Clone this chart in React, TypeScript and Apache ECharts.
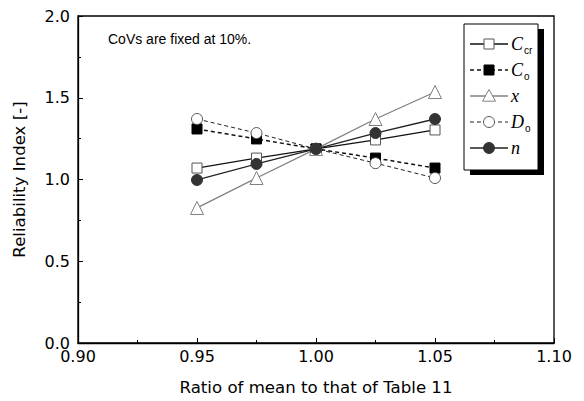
import React, { useEffect, useRef } from "react";
import * as echarts from "echarts";

// Ratio of each mean to the baseline value
const ratios = [0.95, 0.975, 1.0, 1.025, 1.05];

// Reliability index for each varied parameter
const betaCcr = [1.07, 1.131, 1.187, 1.242, 1.303];
const betaCo = [1.309, 1.248, 1.187, 1.131, 1.07];
const betaX = [0.826, 1.009, 1.187, 1.37, 1.535];
const betaDo = [1.37, 1.284, 1.187, 1.1, 1.009];
const betaN = [0.997, 1.095, 1.187, 1.284, 1.37];

const xTicks = [0.9, 0.95, 1.0, 1.05, 1.1];
const yTicks = [0, 0.5, 1.0, 1.5, 2.0];

const note = "CoVs are fixed at 10%.";
const xName = "Ratio of mean to that of Table 11";
const yName = "Reliability Index [-]";

type Spec = {
  key: string;
  label: string;
  data: number[];
  lineColor: string;
  lineWidth: number;
  dashed: boolean;
  symbol: string;
  symbolSize: number;
  fill: string;
  edge: string;
};

const specs: Spec[] = [
  { key: "Ccr", label: "{i|C}{s|cr}", data: betaCcr, lineColor: "#111", lineWidth: 1.3, dashed: false, symbol: "rect", symbolSize: 10, fill: "#fff", edge: "#555" },
  { key: "Co", label: "{i|C}{s|o}", data: betaCo, lineColor: "#111", lineWidth: 1.5, dashed: true, symbol: "rect", symbolSize: 10, fill: "#000", edge: "#000" },
  { key: "x", label: "{i|x}", data: betaX, lineColor: "#808080", lineWidth: 1.3, dashed: false, symbol: "triangle", symbolSize: 13, fill: "#fff", edge: "#808080" },
  { key: "Do", label: "{i|D}{s|o}", data: betaDo, lineColor: "#222", lineWidth: 1, dashed: true, symbol: "circle", symbolSize: 11, fill: "#fff", edge: "#555" },
  { key: "n", label: "{i|n}", data: betaN, lineColor: "#222", lineWidth: 1.3, dashed: false, symbol: "circle", symbolSize: 11, fill: "#333", edge: "#333" },
];

const tickFont = "DejaVu Sans, Verdana, sans-serif";

export default function App() {
  const ref = useRef<HTMLDivElement>(null);

  useEffect(() => {
    if (!ref.current) return;
    const chart = echarts.init(ref.current, null, { renderer: "svg" });

    // Legend drawn as a framed box with a drop shadow
    const boxX = 464, boxY = 24, boxW = 74, boxH = 146, rowY0 = 44, rowGap = 26;
    const legendEls: any[] = [
      { type: "rect", shape: { x: boxX + 6, y: boxY + 5, width: boxW, height: boxH }, style: { fill: "#000" }, z: 10 },
      { type: "rect", shape: { x: boxX, y: boxY, width: boxW, height: boxH }, style: { fill: "#fff", stroke: "#000", lineWidth: 1 }, z: 11 },
    ];
    specs.forEach((s, i) => {
      const y = rowY0 + rowGap * i;
      legendEls.push({
        type: "line",
        shape: { x1: 470, y1: y, x2: 508, y2: y },
        style: { stroke: s.lineColor, lineWidth: s.lineWidth, lineDash: s.dashed ? [4, 3] : null },
        z: 12,
      });
      const m = 489;
      const half = s.symbolSize / 2;
      let marker: any;
      if (s.symbol === "rect") {
        marker = { type: "rect", shape: { x: m - half, y: y - half, width: s.symbolSize, height: s.symbolSize } };
      } else if (s.symbol === "circle") {
        marker = { type: "circle", shape: { cx: m, cy: y, r: half } };
      } else {
        marker = { type: "polygon", shape: { points: [[m, y - half], [m + half, y + half * 0.8], [m - half, y + half * 0.8]] } };
      }
      marker.style = { fill: s.fill, stroke: s.edge, lineWidth: 1 };
      marker.z = 13;
      legendEls.push(marker);
      legendEls.push({
        type: "text",
        x: 511,
        y: y,
        style: {
          text: s.label,
          verticalAlign: "middle",
          rich: {
            i: { fontFamily: "Liberation Serif, Times New Roman, serif", fontStyle: "italic", fontSize: 18, fill: "#000" },
            s: { fontFamily: "Liberation Sans, Arial, sans-serif", fontSize: 10, fill: "#000", padding: [12, 0, 0, 1] },
          },
        },
        z: 13,
      });
    });

    chart.setOption({
      animation: false,
      backgroundColor: "#fff",
      grid: { left: 78, right: 30, top: 16, bottom: 58, show: true, borderColor: "#000", borderWidth: 1.3, backgroundColor: "transparent" },
      xAxis: {
        type: "value",
        min: xTicks[0],
        max: xTicks[xTicks.length - 1],
        interval: 0.05,
        name: xName,
        nameLocation: "middle",
        nameGap: 36,
        nameTextStyle: { fontFamily: tickFont, fontSize: 16.6, color: "#000" },
        axisLine: { show: true, lineStyle: { color: "#000", width: 1.3 } },
        axisTick: { show: true, inside: true, length: 5, lineStyle: { color: "#000" } },
        minorTick: { show: true, splitNumber: 2, length: 3, lineStyle: { color: "#000" } },
        splitLine: { show: false },
        axisLabel: { fontFamily: tickFont, fontSize: 16, lineHeight: 14, color: "#000", margin: 6, formatter: (v: number) => v.toFixed(2) },
      },
      yAxis: {
        type: "value",
        min: yTicks[0],
        max: yTicks[yTicks.length - 1],
        interval: 0.5,
        name: yName,
        nameLocation: "middle",
        nameGap: 50,
        nameTextStyle: { fontFamily: tickFont, fontSize: 16.6, color: "#000" },
        axisLine: { show: true, lineStyle: { color: "#000", width: 1.3 } },
        axisTick: { show: true, inside: true, length: 5, lineStyle: { color: "#000" } },
        minorTick: { show: true, splitNumber: 2, length: 3, lineStyle: { color: "#000" } },
        splitLine: { show: false },
        axisLabel: { fontFamily: tickFont, fontSize: 16, lineHeight: 12, color: "#000", margin: 8, formatter: (v: number) => v.toFixed(1) },
      },
      series: specs.map((s) => ({
        name: s.key,
        type: "line",
        data: ratios.map((r, i) => [r, s.data[i]]),
        symbol: s.symbol,
        symbolSize: s.symbolSize,
        showAllSymbol: true,
        lineStyle: { color: s.lineColor, width: s.lineWidth, type: s.dashed ? [4, 3] : "solid" },
        itemStyle: { color: s.fill, borderColor: s.edge, borderWidth: 1 },
        emphasis: { disabled: true },
      })),
      graphic: [
        {
          type: "text",
          x: 108,
          y: 39,
          style: { text: note, fontFamily: "Liberation Sans, Arial, sans-serif", fontSize: 14, fill: "#000", verticalAlign: "middle" },
          z: 10,
        },
        ...legendEls,
      ],
    });

    return () => chart.dispose();
  }, []);

  return <div ref={ref} style={{ width: 584, height: 401, position: "absolute", left: 0, top: 0 }} />;
}
